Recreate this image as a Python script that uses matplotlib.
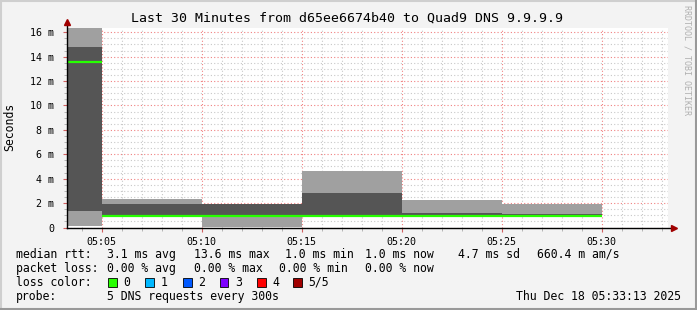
import matplotlib.pyplot as plt
from matplotlib.patches import Rectangle
from matplotlib.lines import Line2D
from matplotlib.ticker import MultipleLocator

plt.rcParams['font.family'] = ['DejaVu Sans Mono']

W, H = 697, 310

# minutes after 05:00, one bar per 5 min step
bar_start = [3.25, 5, 10, 15, 20, 25]
bar_end = 30
ping1 = [0.15, 0.98, 0.07, 0.98, 0.98, 0.98]
ping2 = [1.38, 0.98, 0.93, 0.98, 0.98, 0.98]
median = [13.6, 0.98, 0.98, 0.98, 0.98, 0.98]
ping4 = [14.8, 1.95, 1.95, 2.85, 1.21, 1.08]
ping5 = [16.4, 2.34, 1.95, 4.63, 2.25, 1.95]

xticks = [5, 10, 15, 20, 25, 30]
xtick_labels = ['05:05', '05:10', '05:15', '05:20', '05:25', '05:30']
yticks = [0, 2, 4, 6, 8, 10, 12, 14, 16]
ytick_labels = ['0', '2 m', '4 m', '6 m', '8 m', '10 m', '12 m', '14 m', '16 m']

loss_labels = ['0', '1', '2', '3', '4', '5/5']
loss_colors = ['#26ff00', '#00b8ff', '#0059ff', '#7e00ff', '#ff0000', '#a10000']


def px(x, y):
    return x / W, 1 - y / H


fig = plt.figure(figsize=(W / 100, H / 100), dpi=100, facecolor='#f3f3f3')

x0, x1, ytop, ybot = 66.7, 668, 27.5, 227.5
ax = fig.add_axes([x0 / W, (H - ybot) / H, (x1 - x0) / W, (ybot - ytop) / H])
ax.set_facecolor('white')

edges = bar_start + [bar_end]
ext = lambda a: a + [a[-1]]
light, dark = '#a0a0a0', '#555555'
ax.fill_between(edges, ext(ping1), ext(ping2), step='post', color=light, lw=0, zorder=1)
ax.fill_between(edges, ext(ping2), ext(ping4), step='post', color=dark, lw=0, zorder=1)
ax.fill_between(edges, ext(ping4), ext(ping5), step='post', color=light, lw=0, zorder=1)
ax.hlines(median, bar_start, edges[1:], color='#26ff00', lw=1.6, zorder=3)

ax.set_xlim(3.25, 33.315)
ax.set_ylim(0, 16.39)

ax.xaxis.set_minor_locator(MultipleLocator(1))
ax.yaxis.set_minor_locator(MultipleLocator(0.5))
ax.set_xticks(xticks)
ax.set_xticklabels(xtick_labels)
ax.set_yticks(yticks)
ax.set_yticklabels(ytick_labels)

ax.set_axisbelow(True)
ax.grid(which='minor', color='#c8c8c8', ls=(0, (1, 2)), lw=0.8, zorder=0.5)
ax.grid(which='major', color='#f08080', ls=(0, (1, 2)), lw=0.8, zorder=0.6)

for s in ax.spines.values():
    s.set_visible(False)
ax.tick_params(which='major', length=3, color='#d06060', labelsize=7.2, pad=4)
ax.tick_params(which='minor', length=2, color='#aaaaaa')
ax.tick_params(axis='y', pad=6)

# axis lines with arrows
ax.plot([0, 1.008], [0, 0], color='black', lw=1, transform=ax.transAxes, clip_on=False, zorder=4)
ax.plot([0, 0], [0, 1.02], color='black', lw=1, transform=ax.transAxes, clip_on=False, zorder=4)
ax.plot([1.01], [0], marker='>', color='#a00000', ms=5, transform=ax.transAxes, clip_on=False, zorder=5)
ax.plot([0], [1.027], marker='^', color='#a00000', ms=5, transform=ax.transAxes, clip_on=False, zorder=5)

fig.text(*px(347, 18), 'Last 30 Minutes from d65ee6674b40 to Quad9 DNS 9.9.9.9',
         fontsize=9.5, ha='center', va='center')
fig.text(*px(10, 127), 'Seconds', fontsize=8.3, rotation=90, ha='center', va='center')
fig.text(*px(687.5, 60), 'RRDTOOL / TOBI OETIKER', fontsize=6, rotation=270,
         color='#b0b0b0', ha='center', va='center')

fs = 8.3
line1 = [(16, 'median rtt:'), (107, '3.1 ms avg'), (194, '13.6 ms max'), (285, '1.0 ms min'),
         (365, '1.0 ms now'), (458, '4.7 ms sd'), (537, '660.4 m am/s')]
line2 = [(16, 'packet loss:'), (107, '0.00 % avg'), (194, '0.00 % max'), (279, '0.00 % min'),
         (365, '0.00 % now')]
for xx, t in line1:
    fig.text(*px(xx, 254.3), t, fontsize=fs, va='center')
for xx, t in line2:
    fig.text(*px(xx, 268.3), t, fontsize=fs, va='center')

fig.text(*px(16, 282.3), 'loss color:', fontsize=fs, va='center')
box_x = [108, 145, 183, 220, 257, 293]
for bx, lab, col in zip(box_x, loss_labels, loss_colors):
    fx, fy = px(bx, 287)
    fig.add_artist(Rectangle((fx, fy), 8.5 / W, 9 / H, transform=fig.transFigure,
                             facecolor=col, edgecolor='black', lw=0.6))
    fig.text(*px(bx + 15.5, 282.3), lab, fontsize=fs, va='center')

fig.text(*px(16, 296.3), 'probe:', fontsize=fs, va='center')
fig.text(*px(107, 296.3), '5 DNS requests every 300s', fontsize=fs, va='center')
fig.text(*px(681, 296.3), 'Thu Dec 18 05:33:13 2025', fontsize=fs, va='center', ha='right')

# 3d border
for (xa, ya, xb, yb, c) in [(0.5, 0.5, 696.5, 0.5, '#cfcfcf'), (0.5, 0.5, 0.5, 309.5, '#cfcfcf'),
                             (0, 309, 697, 309, '#999999'), (696, 0, 696, 310, '#999999')]:
    p, q = px(xa, ya), px(xb, yb)
    fig.add_artist(Line2D([p[0], q[0]], [p[1], q[1]], transform=fig.transFigure, color=c, lw=1.5))

fig.savefig('out.png', dpi=100, facecolor=fig.get_facecolor())
